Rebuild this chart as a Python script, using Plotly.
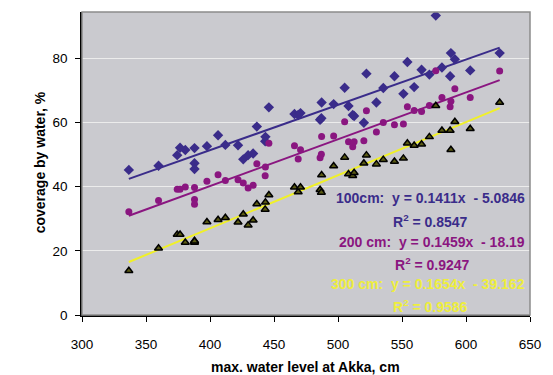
import plotly.graph_objects as go

water_level = [336.6, 359.8, 374.4, 376.6, 380.7, 387.9, 387.9, 387.9, 397.6, 406.3,
               412.0, 421.9, 426.0, 429.8, 433.7, 436.6, 443.1, 443.3, 446.0, 466.0,
               468.9, 470.7, 486.0, 487.0, 487.2, 496.6, 505.2, 508.2, 511.5, 512.6,
               520.2, 522.2, 530.0, 535.4, 544.1, 551.1, 554.2, 559.5, 565.3, 571.4,
               576.4, 581.2, 587.6, 588.2, 591.3, 603.3, 626.3]

cov_100 = [45.2, 46.5, 49.8, 52.1, 51.4, 52.0, 47.3, 45.5, 52.6, 56.0,
           53.0, 52.9, 48.5, 49.8, 50.3, 58.7, 54.1, 55.5, 64.7, 62.6,
           62.3, 62.9, 60.8, 61.3, 66.2, 65.7, 70.8, 65.1, 62.3, 62.0,
           59.9, 75.2, 66.2, 70.7, 74.4, 68.9, 78.8, 71.0, 76.4, 74.9,
           93.3, 77.1, 74.4, 81.6, 79.7, 76.2, 81.6]

cov_200 = [32.2, 35.7, 39.2, 39.2, 39.9, 39.7, 36.0, 34.5, 41.7, 43.7,
           41.9, 42.1, 41.1, 39.6, 40.4, 47.1, 43.4, 46.1, 53.5, 52.7,
           48.6, 51.5, 49.0, 50.1, 55.6, 55.8, 60.2, 54.0, 52.4, 54.0,
           54.3, 63.6, 57.0, 60.0, 59.3, 59.5, 64.9, 63.7, 63.4, 65.3,
           76.1, 67.8, 64.9, 66.6, 70.5, 67.8, 76.0]

cov_300 = [13.8, 20.8, 25.1, 25.1, 22.6, 23.1, 22.6, 23.0, 29.0, 29.7,
           30.3, 28.9, 31.4, 28.0, 29.5, 34.6, 32.9, 35.1, 37.4, 39.8,
           38.3, 39.8, 39.0, 38.2, 43.6, 46.4, 49.1, 43.9, 43.4, 44.3,
           47.3, 49.8, 47.0, 48.4, 47.8, 48.8, 53.5, 52.8, 53.2, 55.5,
           65.2, 57.5, 57.5, 51.5, 60.2, 58.0, 66.2]

series_names = ["100cm", "200 cm", "300 cm"]
slopes = [0.1411, 0.1459, 0.1654]
intercepts = [-5.0846, -18.19, -39.162]
r_squared = ["0.8547", "0.9247", "0.9586"]
x_ticks = [300, 350, 400, 450, 500, 550, 600, 650]
y_ticks = [0, 20, 40, 60, 80]

BLUE = "rgb(58,44,138)"
PURPLE = "rgb(138,22,128)"
YELLOW = "rgb(240,240,40)"
FONT = "Liberation Sans, Arial, sans-serif"

fig = go.Figure()

x_min, x_max = min(water_level), max(water_level)
line_colors = [BLUE, PURPLE, YELLOW]
for s, b, c in zip(slopes, intercepts, line_colors):
    fig.add_trace(go.Scatter(x=[x_min, x_max], y=[s * x_min + b, s * x_max + b],
                             mode="lines", line=dict(color=c, width=2),
                             showlegend=False, hoverinfo="skip"))

fig.add_trace(go.Scatter(x=water_level, y=cov_100, mode="markers", name=series_names[0],
                         marker=dict(symbol="diamond", size=8, color=BLUE),
                         showlegend=False))
fig.add_trace(go.Scatter(x=water_level, y=cov_200, mode="markers", name=series_names[1],
                         marker=dict(symbol="circle", size=7, color=PURPLE),
                         showlegend=False))
fig.add_trace(go.Scatter(x=water_level, y=cov_300, mode="markers", name=series_names[2],
                         marker=dict(symbol="triangle-up", size=7, color="rgb(90,90,20)",
                                     line=dict(color="black", width=1.5)),
                         showlegend=False))

nb = "\u00a0"
ann_colors = [BLUE, PURPLE, "rgb(238,238,60)"]
eq_y = [36.5, 22.7, 9.7]
r_y = [29.3, 15.9, 2.8]
r_x = [572.3, 573.9, 572.3]
for i in range(3):
    sign = "-" if intercepts[i] < 0 else "+"
    eq = (f"<b>{series_names[i]}:{nb}{nb}y = {slopes[i]}x{nb}{nb}"
          f"{sign} {abs(intercepts[i])}</b>")
    fig.add_annotation(x=648, y=eq_y[i], xref="x", yref="y", text=eq, showarrow=False,
                       xanchor="right", yanchor="middle",
                       font=dict(family=FONT, size=14, color=ann_colors[i]))
    fig.add_annotation(x=r_x[i], y=r_y[i], xref="x", yref="y",
                       text=f"<b>R<sup>2</sup> = {r_squared[i]}</b>", showarrow=False,
                       xanchor="center", yanchor="middle",
                       font=dict(family=FONT, size=14, color=ann_colors[i]))

# axis titles placed as annotations
fig.add_annotation(x=-0.093, y=0.505, xref="paper", yref="paper",
                   text="<b>coverage by water, %</b>", showarrow=False, textangle=-90,
                   xanchor="center", yanchor="middle",
                   font=dict(family=FONT, size=14, color="black"))
fig.add_annotation(x=0.498, y=-0.171, xref="paper", yref="paper",
                   text="<b>max. water level at Akka, cm</b>", showarrow=False,
                   xanchor="center", yanchor="middle",
                   font=dict(family=FONT, size=14, color="black"))

# plot area border (gray); axis lines drawn black on left/bottom
fig.add_shape(type="rect", xref="paper", yref="paper", x0=0, y0=0, x1=1, y1=1,
              line=dict(color="rgb(140,140,140)", width=1.5), layer="above")

# the page body adds an 8px offset, so the figure is sized to compensate
fig.update_layout(
    width=545, height=367,
    margin=dict(l=74, r=23, t=4, b=60),
    paper_bgcolor="white",
    plot_bgcolor="rgb(202,202,207)",
    font=dict(family=FONT, size=12, color="black"),
    xaxis=dict(range=[300, 650], tickvals=x_ticks, showgrid=False, zeroline=False,
               showline=True, linecolor="black", linewidth=1.5,
               ticks="outside", ticklen=5, tickcolor="black",
               tickfont=dict(size=13.5), ticklabelstandoff=11),
    yaxis=dict(range=[0, 94.4], tickvals=y_ticks, showgrid=True,
               gridcolor="rgb(236,236,236)", gridwidth=1.2, zeroline=False,
               showline=True, linecolor="black", linewidth=1.5,
               ticks="outside", ticklen=5, tickcolor="black",
               tickfont=dict(size=13.5), ticklabelstandoff=5),
)

fig.write_html("out.html")
